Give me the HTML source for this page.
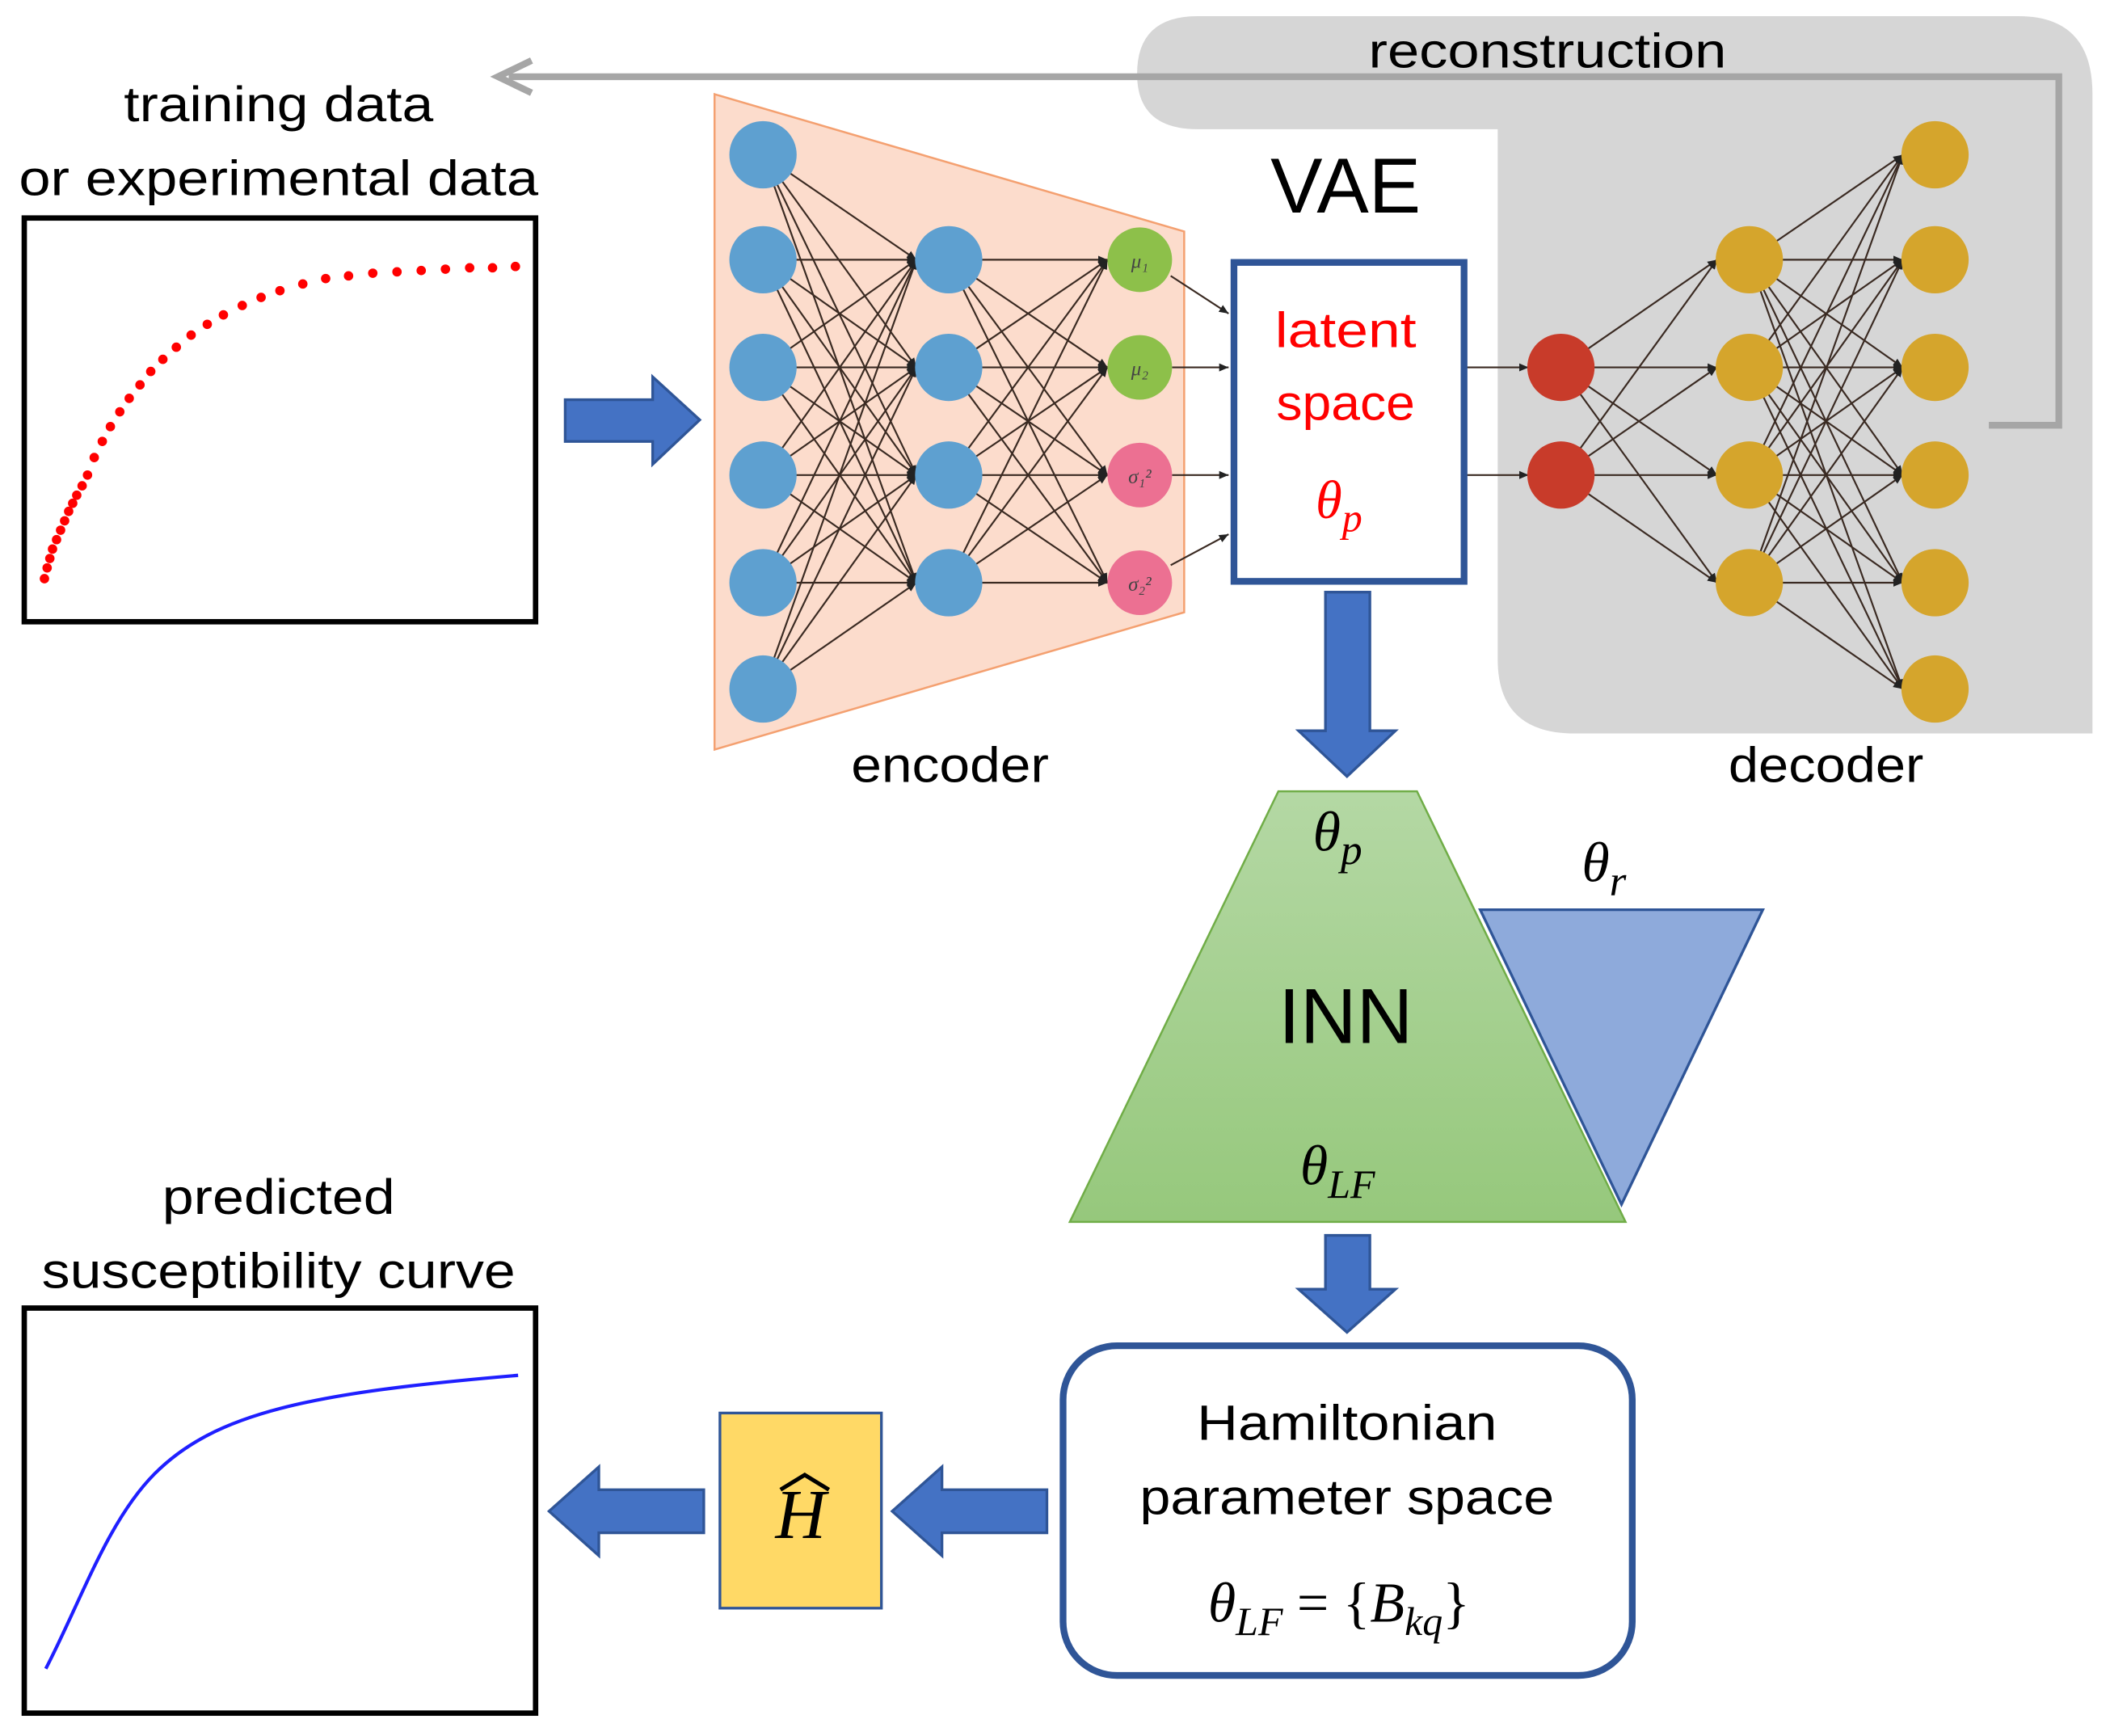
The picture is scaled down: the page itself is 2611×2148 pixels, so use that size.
<!DOCTYPE html>
<html><head><meta charset="utf-8"><style>html,body{margin:0;padding:0;background:#fff}svg{display:block}</style></head><body>
<svg width="2611" height="2148" viewBox="0 0 1568 1290" xmlns="http://www.w3.org/2000/svg" font-family="Liberation Sans, sans-serif">
<defs>
<linearGradient id="g" x1="0" y1="0" x2="0" y2="1"><stop offset="0" stop-color="#b4d8a4"/><stop offset="1" stop-color="#96c87c"/></linearGradient>
<marker id="a" markerWidth="8" markerHeight="8" refX="7" refY="4" orient="auto" markerUnits="userSpaceOnUse"><path d="M0,1 L7,4 L0,7 z" fill="#222"/></marker>
</defs>
<path d="M890,12 H1500 Q1555,12 1555,70 V545 H1170 Q1113,545 1113,490 V96 H890 Q845,96 845,55 Q845,12 890,12 Z" fill="#d6d6d6"/>
<text x="1150" y="50" font-size="36" text-anchor="middle" textLength="266" lengthAdjust="spacingAndGlyphs">reconstruction</text>
<polyline points="1478,316 1530,316 1530,57 378,57" fill="none" stroke="#a6a6a6" stroke-width="5"/>
<path d="M395,45 L370,57 L395,69" fill="none" stroke="#a6a6a6" stroke-width="5"/>
<text x="207" y="90" font-size="37" text-anchor="middle" textLength="230" lengthAdjust="spacingAndGlyphs">training data</text>
<text x="207" y="145" font-size="37" text-anchor="middle" textLength="386" lengthAdjust="spacingAndGlyphs">or experimental data</text>
<rect x="18" y="162" width="380" height="300" fill="#fff" stroke="#000" stroke-width="4"/>
<g fill="#f00">
<circle cx="33" cy="430" r="3.5"/><circle cx="35" cy="422" r="3.5"/><circle cx="37" cy="415" r="3.5"/><circle cx="39" cy="408" r="3.5"/><circle cx="42" cy="401" r="3.5"/><circle cx="45" cy="394" r="3.5"/><circle cx="48" cy="387" r="3.5"/><circle cx="51" cy="380" r="3.5"/><circle cx="54" cy="374" r="3.5"/><circle cx="57" cy="368" r="3.5"/><circle cx="61" cy="361" r="3.5"/><circle cx="65" cy="353" r="3.5"/><circle cx="70" cy="340" r="3.5"/><circle cx="76" cy="328" r="3.5"/><circle cx="82" cy="317" r="3.5"/><circle cx="89" cy="306" r="3.5"/><circle cx="96" cy="296" r="3.5"/><circle cx="104" cy="286" r="3.5"/><circle cx="112" cy="276" r="3.5"/><circle cx="121" cy="267" r="3.5"/><circle cx="131" cy="258" r="3.5"/><circle cx="142" cy="249" r="3.5"/><circle cx="154" cy="241" r="3.5"/><circle cx="166" cy="234" r="3.5"/><circle cx="180" cy="227" r="3.5"/><circle cx="194" cy="221" r="3.5"/><circle cx="208" cy="216" r="3.5"/><circle cx="225" cy="211" r="3.5"/><circle cx="242" cy="207" r="3.5"/><circle cx="259" cy="205" r="3.5"/><circle cx="277" cy="203" r="3.5"/><circle cx="295" cy="202" r="3.5"/><circle cx="313" cy="201" r="3.5"/><circle cx="331" cy="200" r="3.5"/><circle cx="349" cy="199" r="3.5"/><circle cx="366" cy="199" r="3.5"/><circle cx="383" cy="198" r="3.5"/>
</g>
<path d="M420,297 H485 V280 L520,312 L485,345 V328 H420 Z" fill="#4472c4" stroke="#2f5597" stroke-width="2"/>
<polygon points="531,70 880,172 880,455 531,557" fill="#fcdccc" stroke="#f4a070" stroke-width="1.5"/>
<g stroke="#3a2a22" stroke-width="1.3" marker-end="url(#a)">
<line x1="567" y1="115" x2="681" y2="193"/><line x1="567" y1="115" x2="681" y2="273"/><line x1="567" y1="115" x2="681" y2="353"/><line x1="567" y1="115" x2="681" y2="433"/>
<line x1="567" y1="193" x2="681" y2="193"/><line x1="567" y1="193" x2="681" y2="273"/><line x1="567" y1="193" x2="681" y2="353"/><line x1="567" y1="193" x2="681" y2="433"/>
<line x1="567" y1="273" x2="681" y2="193"/><line x1="567" y1="273" x2="681" y2="273"/><line x1="567" y1="273" x2="681" y2="353"/><line x1="567" y1="273" x2="681" y2="433"/>
<line x1="567" y1="353" x2="681" y2="193"/><line x1="567" y1="353" x2="681" y2="273"/><line x1="567" y1="353" x2="681" y2="353"/><line x1="567" y1="353" x2="681" y2="433"/>
<line x1="567" y1="433" x2="681" y2="193"/><line x1="567" y1="433" x2="681" y2="273"/><line x1="567" y1="433" x2="681" y2="353"/><line x1="567" y1="433" x2="681" y2="433"/>
<line x1="567" y1="512" x2="681" y2="193"/><line x1="567" y1="512" x2="681" y2="273"/><line x1="567" y1="512" x2="681" y2="353"/><line x1="567" y1="512" x2="681" y2="433"/>
<line x1="705" y1="193" x2="823" y2="193"/><line x1="705" y1="193" x2="823" y2="273"/><line x1="705" y1="193" x2="823" y2="353"/><line x1="705" y1="193" x2="823" y2="433"/>
<line x1="705" y1="273" x2="823" y2="193"/><line x1="705" y1="273" x2="823" y2="273"/><line x1="705" y1="273" x2="823" y2="353"/><line x1="705" y1="273" x2="823" y2="433"/>
<line x1="705" y1="353" x2="823" y2="193"/><line x1="705" y1="353" x2="823" y2="273"/><line x1="705" y1="353" x2="823" y2="353"/><line x1="705" y1="353" x2="823" y2="433"/>
<line x1="705" y1="433" x2="823" y2="193"/><line x1="705" y1="433" x2="823" y2="273"/><line x1="705" y1="433" x2="823" y2="353"/><line x1="705" y1="433" x2="823" y2="433"/>
<line x1="870" y1="205" x2="913" y2="233"/><line x1="871" y1="273" x2="913" y2="273"/><line x1="871" y1="353" x2="913" y2="353"/><line x1="870" y1="420" x2="913" y2="397"/>
<line x1="1090" y1="273" x2="1136" y2="273"/><line x1="1090" y1="353" x2="1136" y2="353"/>
<line x1="1160" y1="273" x2="1276" y2="193"/><line x1="1160" y1="273" x2="1276" y2="273"/><line x1="1160" y1="273" x2="1276" y2="353"/><line x1="1160" y1="273" x2="1276" y2="433"/>
<line x1="1160" y1="353" x2="1276" y2="193"/><line x1="1160" y1="353" x2="1276" y2="273"/><line x1="1160" y1="353" x2="1276" y2="353"/><line x1="1160" y1="353" x2="1276" y2="433"/>
<line x1="1300" y1="193" x2="1414" y2="115"/><line x1="1300" y1="193" x2="1414" y2="193"/><line x1="1300" y1="193" x2="1414" y2="273"/><line x1="1300" y1="193" x2="1414" y2="353"/><line x1="1300" y1="193" x2="1414" y2="433"/><line x1="1300" y1="193" x2="1414" y2="512"/>
<line x1="1300" y1="273" x2="1414" y2="115"/><line x1="1300" y1="273" x2="1414" y2="193"/><line x1="1300" y1="273" x2="1414" y2="273"/><line x1="1300" y1="273" x2="1414" y2="353"/><line x1="1300" y1="273" x2="1414" y2="433"/><line x1="1300" y1="273" x2="1414" y2="512"/>
<line x1="1300" y1="353" x2="1414" y2="115"/><line x1="1300" y1="353" x2="1414" y2="193"/><line x1="1300" y1="353" x2="1414" y2="273"/><line x1="1300" y1="353" x2="1414" y2="353"/><line x1="1300" y1="353" x2="1414" y2="433"/><line x1="1300" y1="353" x2="1414" y2="512"/>
<line x1="1300" y1="433" x2="1414" y2="115"/><line x1="1300" y1="433" x2="1414" y2="193"/><line x1="1300" y1="433" x2="1414" y2="273"/><line x1="1300" y1="433" x2="1414" y2="353"/><line x1="1300" y1="433" x2="1414" y2="433"/><line x1="1300" y1="433" x2="1414" y2="512"/>
</g>
<g fill="#5ea0d0">
<circle cx="567" cy="115" r="25"/><circle cx="567" cy="193" r="25"/><circle cx="567" cy="273" r="25"/><circle cx="567" cy="353" r="25"/><circle cx="567" cy="433" r="25"/><circle cx="567" cy="512" r="25"/>
<circle cx="705" cy="193" r="25"/><circle cx="705" cy="273" r="25"/><circle cx="705" cy="353" r="25"/><circle cx="705" cy="433" r="25"/>
</g>
<circle cx="847" cy="193" r="24" fill="#8dc04a"/><circle cx="847" cy="273" r="24" fill="#8dc04a"/>
<circle cx="847" cy="353" r="24" fill="#ec7092"/><circle cx="847" cy="433" r="24" fill="#ec7092"/>
<g font-family="Liberation Serif, serif" font-style="italic" font-size="15" fill="#444" text-anchor="middle">
<text x="847" y="199">μ₁</text><text x="847" y="279">μ₂</text><text x="847" y="359">σ₁²</text><text x="847" y="439">σ₂²</text>
</g>
<text x="706" y="581" font-size="37" text-anchor="middle" textLength="147" lengthAdjust="spacingAndGlyphs">encoder</text>
<text x="1000" y="158" font-size="58" text-anchor="middle">VAE</text>
<rect x="917" y="195" width="171" height="237" fill="#fff" stroke="#2f5597" stroke-width="5"/>
<text x="1000" y="258" font-size="37" fill="#f00" text-anchor="middle" textLength="105" lengthAdjust="spacingAndGlyphs">latent</text>
<text x="1000" y="312" font-size="37" fill="#f00" text-anchor="middle" textLength="103" lengthAdjust="spacingAndGlyphs">space</text>
<text x="995" y="385" font-size="40" fill="#f00" font-family="Liberation Serif, serif" font-style="italic" text-anchor="middle">θ<tspan font-size="30" dy="10">p</tspan></text>
<g fill="#c83b2a"><circle cx="1160" cy="273" r="25"/><circle cx="1160" cy="353" r="25"/></g>
<g fill="#d5a52c">
<circle cx="1300" cy="193" r="25"/><circle cx="1300" cy="273" r="25"/><circle cx="1300" cy="353" r="25"/><circle cx="1300" cy="433" r="25"/>
<circle cx="1438" cy="115" r="25"/><circle cx="1438" cy="193" r="25"/><circle cx="1438" cy="273" r="25"/><circle cx="1438" cy="353" r="25"/><circle cx="1438" cy="433" r="25"/><circle cx="1438" cy="512" r="25"/>
</g>
<text x="1357" y="581" font-size="37" text-anchor="middle" textLength="145" lengthAdjust="spacingAndGlyphs">decoder</text>
<path d="M985,440 H1018 V543 H1037 L1001,577 L965,543 H985 Z" fill="#4472c4" stroke="#2f5597" stroke-width="2"/>
<polygon points="1100,676 1310,676 1205,895" fill="#8eaadb" stroke="#2f5597" stroke-width="2"/>
<polygon points="950,588 1053,588 1208,908 795,908" fill="url(#g)" stroke="#70ad47" stroke-width="1.5"/>
<g font-family="Liberation Serif, serif" font-style="italic" font-size="42" text-anchor="middle">
<text x="994" y="632">θ<tspan font-size="32" dy="10">p</tspan></text>
<text x="1192" y="655">θ<tspan font-size="32" dy="10">r</tspan></text>
<text x="994" y="880">θ<tspan font-size="30" dy="10">LF</tspan></text>
</g>
<text x="1000" y="775" font-size="58" text-anchor="middle">INN</text>
<path d="M985,918 H1018 V958 H1037 L1001,990 L965,958 H985 Z" fill="#4472c4" stroke="#2f5597" stroke-width="2"/>
<rect x="790" y="1000" width="423" height="245" rx="40" fill="#fff" stroke="#2f5597" stroke-width="5"/>
<text x="1001" y="1070" font-size="37" text-anchor="middle" textLength="223" lengthAdjust="spacingAndGlyphs">Hamiltonian</text>
<text x="1001" y="1125" font-size="37" text-anchor="middle" textLength="308" lengthAdjust="spacingAndGlyphs">parameter space</text>
<text x="995" y="1205" font-size="42" font-family="Liberation Serif, serif" text-anchor="middle"><tspan font-style="italic">θ</tspan><tspan font-style="italic" font-size="30" dy="10">LF</tspan><tspan dy="-10"> = {</tspan><tspan font-style="italic">B</tspan><tspan font-style="italic" font-size="30" dy="10">kq</tspan><tspan dy="-10">}</tspan></text>
<rect x="535" y="1050" width="120" height="145" fill="#ffd966" stroke="#2f5597" stroke-width="2"/>
<text x="595" y="1143" font-size="52" font-family="Liberation Serif, serif" font-style="italic" text-anchor="middle">H</text>
<path d="M580,1107 L598,1096 L616,1107" fill="none" stroke="#000" stroke-width="3"/>
<path d="M778,1107 H700 V1090 L663,1123 L700,1156 V1139 H778 Z" fill="#4472c4" stroke="#2f5597" stroke-width="2"/>
<path d="M523,1107 H445 V1090 L408,1123 L445,1156 V1139 H523 Z" fill="#4472c4" stroke="#2f5597" stroke-width="2"/>
<text x="207" y="902" font-size="37" text-anchor="middle" textLength="173" lengthAdjust="spacingAndGlyphs">predicted</text>
<text x="207" y="957" font-size="37" text-anchor="middle" textLength="352" lengthAdjust="spacingAndGlyphs">susceptibility curve</text>
<rect x="18" y="972" width="380" height="301" fill="#fff" stroke="#000" stroke-width="4"/>
<path d="M34,1240 C60,1190 80,1130 115,1095 C160,1050 230,1035 385,1022" fill="none" stroke="#1f1fff" stroke-width="2.5"/>
</svg>
</body></html>
